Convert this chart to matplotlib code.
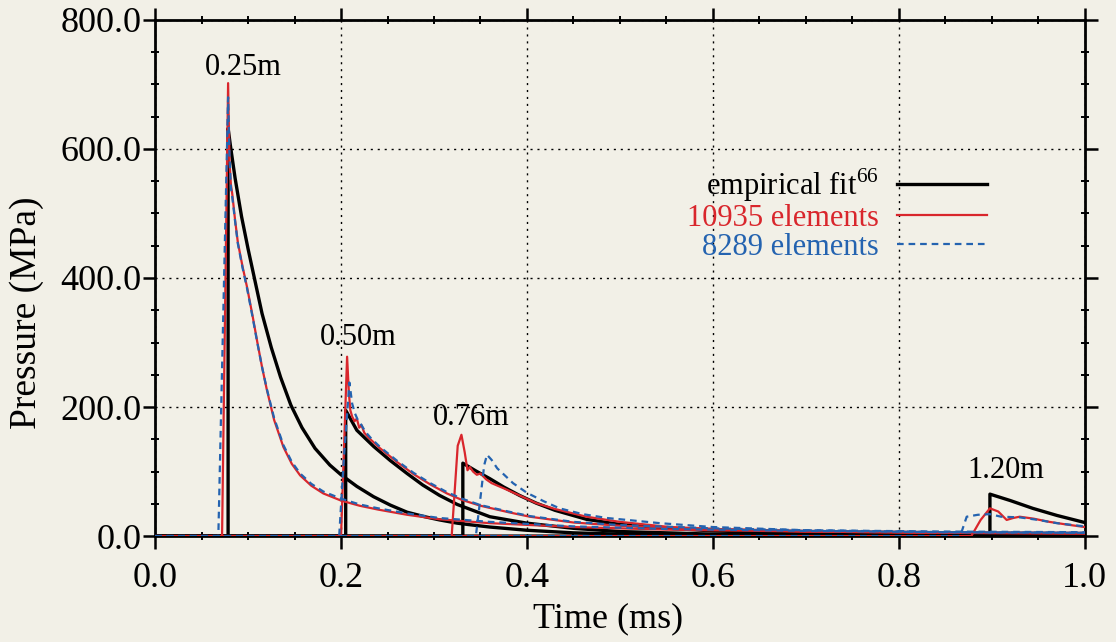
import matplotlib
matplotlib.use("Agg")
import matplotlib.pyplot as plt
from matplotlib.ticker import MultipleLocator, FormatStrFormatter

# --- data (time in ms, pressure in MPa) ---
fit_025_t = [0, 0.0785, 0.0785, 0.081, 0.086, 0.093, 0.1, 0.106, 0.115, 0.125, 0.135, 0.146, 0.158, 0.172,
             0.188, 0.2, 0.217, 0.235, 0.253, 0.271, 0.29, 0.306, 0.325, 0.342, 0.36, 0.4, 0.45, 0.5, 0.6, 1.0]
fit_025_p = [0, 0, 632, 605, 555, 495, 445, 405, 345, 292, 246, 203, 168, 136,
             110, 95, 77, 61, 48, 37, 30, 25, 20, 17, 14, 9, 5, 3, 1, 0]
fit_050_t = [0, 0.205, 0.205, 0.217, 0.235, 0.253, 0.271, 0.288, 0.306, 0.325, 0.36, 0.4, 0.45, 0.5, 0.6, 0.7, 1.0]
fit_050_p = [0, 0, 195, 164, 139, 117, 97, 79, 63, 49, 30, 20, 12, 7, 3, 1, 0]
fit_076_t = [0, 0.331, 0.331, 0.345, 0.36, 0.375, 0.392, 0.41, 0.43, 0.464, 0.5, 0.554, 0.6, 0.7, 0.8, 1.0]
fit_076_p = [0, 0, 113, 101, 89, 76, 63, 51, 40, 26, 18, 12, 8, 4, 2, 0]
fit_120_t = [0, 0.898, 0.898, 0.92, 0.944, 0.97, 1.0]
fit_120_p = [0, 0, 65, 55, 43, 32, 21]

fine_025_t = [0, 0.072, 0.0785, 0.080, 0.0815, 0.083, 0.086, 0.089, 0.094, 0.099, 0.105, 0.11, 0.115, 0.12,
              0.128, 0.138, 0.147, 0.156, 0.168, 0.181, 0.2, 0.22, 0.24, 0.271, 0.306, 0.36, 0.45, 0.55,
              0.7, 0.85, 1.0]
fine_025_p = [0, 0, 702, 580, 545, 530, 490, 455, 418, 385, 340, 300, 262, 228,
              180, 138, 112, 94, 78, 66, 55, 47, 41, 33, 26, 20, 14, 10, 7, 5, 4]
fine_050_t = [0, 0.200, 0.2065, 0.2085, 0.210, 0.212, 0.2145, 0.217, 0.2195, 0.222, 0.225, 0.23, 0.242, 0.26,
              0.278, 0.296, 0.314, 0.33, 0.35, 0.38, 0.403, 0.45, 0.5, 0.6, 0.7, 0.85, 1.0]
fine_050_p = [0, 0, 278, 220, 195, 185, 178, 182, 168, 172, 160, 152, 136, 115,
              96, 80, 66, 56, 47, 37, 30, 21, 16, 11, 8, 6, 5]
fine_076_t = [0, 0.319, 0.3255, 0.3295, 0.333, 0.336, 0.3385, 0.342, 0.346, 0.350, 0.356, 0.362, 0.375, 0.392,
              0.41, 0.43, 0.464, 0.5, 0.554, 0.6, 0.7, 0.85, 1.0]
fine_076_p = [0, 0, 140, 157, 130, 102, 107, 100, 95, 97, 88, 82, 74, 63,
              51, 42, 30, 22, 14, 11, 7, 5, 4]
fine_120_t = [0, 0.878, 0.888, 0.898, 0.907, 0.916, 0.923, 0.93, 0.945, 0.962, 0.98, 1.0]
fine_120_p = [0, 0, 25, 43, 38, 25, 28, 30, 27, 22, 18, 14]

coarse_025_t = [0, 0.068, 0.0785, 0.080, 0.0815, 0.083, 0.086, 0.089, 0.094, 0.099, 0.105, 0.11, 0.115, 0.12,
                0.128, 0.138, 0.147, 0.156, 0.168, 0.181, 0.2, 0.22, 0.24, 0.271, 0.306, 0.36, 0.45, 0.55,
                0.7, 0.85, 1.0]
coarse_025_p = [0, 0, 680, 590, 540, 525, 488, 453, 416, 383, 338, 299, 262, 229,
                183, 141, 115, 97, 81, 69, 58, 49, 43, 35, 28, 22, 15, 11, 8, 6, 5]
coarse_050_t = [0, 0.198, 0.203, 0.209, 0.212, 0.215, 0.218, 0.222, 0.226, 0.232, 0.242, 0.26, 0.278, 0.296,
                0.314, 0.33, 0.35, 0.38, 0.403, 0.45, 0.5, 0.6, 0.7, 0.85, 1.0]
coarse_050_p = [0, 0, 120, 238, 205, 190, 180, 172, 162, 152, 138, 117, 98, 82,
                68, 58, 48, 38, 31, 22, 17, 12, 9, 7, 6]
coarse_076_t = [0, 0.345, 0.350, 0.354, 0.357, 0.362, 0.368, 0.374, 0.385, 0.40, 0.418, 0.435, 0.46, 0.486,
                0.515, 0.543, 0.6, 0.7, 0.85, 1.0]
coarse_076_p = [0, 0, 60, 110, 126, 118, 105, 97, 82, 67, 54, 43, 34, 28, 24, 20, 14, 9, 6, 5]
coarse_120_t = [0, 0.866, 0.873, 0.885, 0.898, 0.91, 0.93, 0.95, 0.97, 1.0]
coarse_120_p = [0, 0, 30, 33, 34, 30, 29, 25, 20, 15]

distance_labels = ["0.25m", "0.50m", "0.76m", "1.20m"]
label_t = [0.0946, 0.219, 0.340, 0.915]
label_p = [727, 307, 184, 102]

series_names = ["empirical fit$^{66}$", "10935 elements", "8289 elements"]

paper = "#f2f0e7"
red = "#d9262c"
blue = "#2463b0"

plt.rcParams['font.family'] = ['Liberation Serif', 'DejaVu Serif']
plt.rcParams['mathtext.fontset'] = 'custom'
plt.rcParams['mathtext.rm'] = 'Liberation Serif'

fig = plt.figure(figsize=(11.16, 6.42), dpi=100, facecolor=paper)
ax = fig.add_axes([0.139, 0.165, 0.833, 0.804], facecolor=paper)

blue_curves = [(coarse_025_t, coarse_025_p), (coarse_050_t, coarse_050_p),
               (coarse_076_t, coarse_076_p), (coarse_120_t, coarse_120_p)]
red_curves = [(fine_025_t, fine_025_p), (fine_050_t, fine_050_p),
              (fine_076_t, fine_076_p), (fine_120_t, fine_120_p)]
black_curves = [(fit_025_t, fit_025_p), (fit_050_t, fit_050_p),
                (fit_076_t, fit_076_p), (fit_120_t, fit_120_p)]

for i, (t, p) in enumerate(black_curves):
    ax.plot(t, p, color="black", lw=2.4, label=series_names[0] if i == 0 else None, zorder=3)
for i, (t, p) in enumerate(red_curves):
    ax.plot(t, p, color=red, lw=1.6, label=series_names[1] if i == 0 else None, zorder=4)
for i, (t, p) in enumerate(blue_curves):
    ax.plot(t, p, color=blue, lw=1.6, ls=(0, (3, 2.2)), label=series_names[2] if i == 0 else None, zorder=5)

for txt, t, p in zip(distance_labels, label_t, label_p):
    ax.text(t, p, txt, ha="center", va="center", fontsize=22)

ax.set_xlim(0, 1.0)
ax.set_ylim(0, 800)
ax.xaxis.set_major_locator(MultipleLocator(0.2))
ax.xaxis.set_minor_locator(MultipleLocator(0.05))
ax.yaxis.set_major_locator(MultipleLocator(200))
ax.yaxis.set_minor_locator(MultipleLocator(50))
ax.xaxis.set_major_formatter(FormatStrFormatter('%.1f'))
ax.yaxis.set_major_formatter(FormatStrFormatter('%.1f'))
ax.tick_params(which="major", direction="out", length=9, width=1.8, labelsize=26)
ax.tick_params(axis="x", which="major", pad=10)
ax.tick_params(axis="y", which="major", pad=1)
ax.tick_params(which="minor", direction="inout", length=6, width=1.4)
ax.tick_params(which="both", top=True, right=True)

ax.grid(True, which="major", color="black", ls=(0, (1.5, 3.5)), lw=1.0)
for s in ax.spines.values():
    s.set_linewidth(2.0)

ax.set_xlabel("Time (ms)", fontsize=26)
ax.set_ylabel("Pressure (MPa)", fontsize=27)
ax.xaxis.set_label_coords(0.487, -0.128)
ax.yaxis.set_label_coords(-0.12, 0.432)

leg = ax.legend(loc="upper right", bbox_to_anchor=(0.915, 0.752), frameon=False,
                markerfirst=False, labelcolor="linecolor", fontsize=22,
                handlelength=2.95, handletextpad=0.6, labelspacing=0.0,
                borderaxespad=0.2)
for txt in leg.get_texts():
    txt.set_ha("right")

fig.savefig("out.png", dpi=100, facecolor=paper)
